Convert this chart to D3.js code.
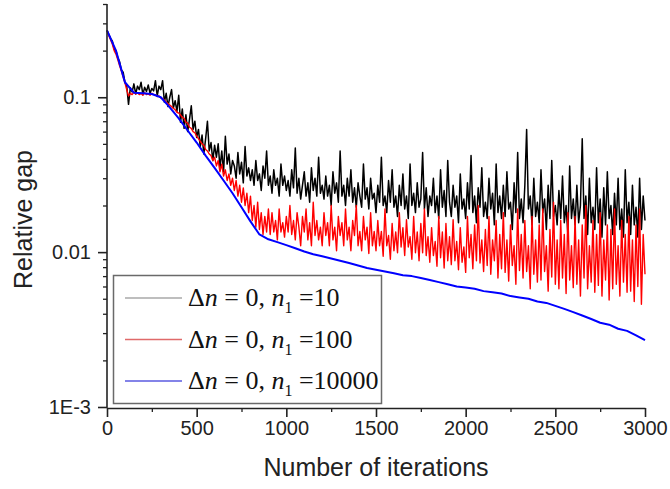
<!DOCTYPE html>
<html>
<head>
<meta charset="utf-8">
<script src="https://cdn.jsdelivr.net/npm/d3@7"></script>
<style>
  body { margin: 0; background: white; }
</style>
</head>
<body>
<div id="chart"></div>
<script>
// n1 = 10 and n1 = 100 read every 10 iterations, n1 = 10000 every 50
let stepNoisy = 10;
let stepSmooth = 50;

let gapN10 = [
  0.27, 0.255, 0.24, 0.23, 0.205, 0.20, 0.18, 0.17, 0.15, 0.145, 0.125, 0.118, 0.09,
  0.115, 0.108, 0.122, 0.105, 0.118, 0.112, 0.125, 0.104, 0.116, 0.109, 0.12, 0.106, 0.114, 0.11, 0.128, 0.102, 0.118, 0.112,
  0.128, 0.093, 0.106, 0.087, 0.1, 0.112, 0.085, 0.095, 0.081, 0.103,
  0.069, 0.084, 0.063, 0.077, 0.06, 0.072, 0.088, 0.062, 0.07, 0.055,
  0.062, 0.048, 0.057, 0.043, 0.054, 0.07, 0.045, 0.051, 0.039, 0.049,
  0.041, 0.05, 0.035, 0.045, 0.033, 0.056, 0.037, 0.043, 0.032, 0.039,
  0.036, 0.03, 0.044, 0.032, 0.038, 0.028, 0.048, 0.031, 0.035, 0.029,
  0.034, 0.027, 0.039, 0.029, 0.032, 0.025, 0.036, 0.03, 0.045, 0.027,
  0.031, 0.024, 0.034, 0.027, 0.03, 0.023, 0.037, 0.027, 0.031, 0.025,
  0.029, 0.023, 0.034, 0.026, 0.047, 0.024, 0.03, 0.022, 0.027, 0.033,
  0.023, 0.028, 0.021, 0.035, 0.025, 0.03, 0.023, 0.041, 0.024, 0.027,
  0.022, 0.031, 0.023, 0.027, 0.02, 0.033, 0.024, 0.028, 0.021, 0.045,
  0.023, 0.027, 0.02, 0.03, 0.023, 0.034, 0.021, 0.026, 0.0195, 0.028,
  0.023, 0.0195, 0.037, 0.022, 0.026, 0.019, 0.03, 0.022, 0.024, 0.018,
  0.027, 0.021, 0.041, 0.02, 0.023, 0.018, 0.029, 0.021, 0.034, 0.0195,
  0.023, 0.017, 0.027, 0.02, 0.032, 0.019, 0.023, 0.0165, 0.037, 0.02,
  0.024, 0.018, 0.028, 0.0195, 0.022, 0.044, 0.019, 0.026, 0.017, 0.023,
  0.02, 0.03, 0.018, 0.023, 0.0165, 0.034, 0.0195, 0.025, 0.017, 0.039,
  0.021, 0.017, 0.027, 0.0195, 0.023, 0.0155, 0.032, 0.019, 0.022, 0.0165,
  0.028, 0.019, 0.042, 0.018, 0.023, 0.0155, 0.026, 0.0195, 0.035, 0.017,
  0.021, 0.0165, 0.03, 0.019, 0.024, 0.015, 0.037, 0.018, 0.023, 0.0165,
  0.027, 0.017, 0.033, 0.019, 0.021, 0.014, 0.028, 0.018, 0.044, 0.0165,
  0.022, 0.0155, 0.027, 0.062, 0.019, 0.023, 0.015, 0.03, 0.017, 0.021,
  0.0155, 0.034, 0.018, 0.022, 0.014, 0.027, 0.0165, 0.039, 0.017, 0.02,
  0.015, 0.025, 0.0165, 0.031, 0.0155, 0.02, 0.013, 0.036, 0.0165, 0.022,
  0.015, 0.027, 0.0155, 0.02, 0.054, 0.0165, 0.023, 0.013, 0.03, 0.0155,
  0.0195, 0.014, 0.035, 0.0155, 0.022, 0.0125, 0.026, 0.015, 0.033, 0.0165,
  0.02, 0.013, 0.024, 0.015, 0.03, 0.014, 0.019, 0.0125, 0.034, 0.0155,
  0.021, 0.013, 0.027, 0.015, 0.0195, 0.0125, 0.03, 0.014, 0.023, 0.016
];

let gapN100 = [
  0.27, 0.25, 0.235, 0.22, 0.2, 0.19, 0.175, 0.16, 0.148, 0.135, 0.124, 0.112, 0.102,
  0.106, 0.104, 0.108, 0.105, 0.107, 0.104, 0.106, 0.103, 0.107, 0.104, 0.105, 0.103, 0.106, 0.104, 0.104, 0.101, 0.102, 0.099,
  0.098, 0.096, 0.093, 0.091, 0.089, 0.087, 0.085, 0.083, 0.08, 0.079,
  0.077, 0.074, 0.073, 0.069, 0.068, 0.064, 0.063, 0.06, 0.059, 0.056,
  0.054, 0.052, 0.05, 0.049, 0.046, 0.045, 0.043, 0.042, 0.039, 0.041,
  0.036, 0.039, 0.033, 0.037, 0.031, 0.034, 0.029, 0.032, 0.027, 0.03,
  0.025, 0.029, 0.023, 0.027, 0.021, 0.026, 0.02, 0.024, 0.018, 0.023,
  0.016, 0.02, 0.0145, 0.021, 0.014, 0.018, 0.013, 0.017, 0.0135, 0.019,
  0.013, 0.018, 0.0135, 0.016, 0.012, 0.019, 0.0135, 0.0155, 0.0125, 0.017,
  0.0135, 0.02, 0.013, 0.016, 0.012, 0.018, 0.0145, 0.011, 0.017, 0.0135,
  0.019, 0.012, 0.0155, 0.011, 0.021, 0.0128, 0.016, 0.012, 0.0145, 0.011,
  0.018, 0.0128, 0.0155, 0.011, 0.02, 0.012, 0.0145, 0.0102, 0.017, 0.0128,
  0.0155, 0.011, 0.019, 0.012, 0.0145, 0.0102, 0.016, 0.0128, 0.02, 0.011,
  0.0136, 0.0102, 0.017, 0.012, 0.0145, 0.0098, 0.018, 0.011, 0.0136, 0.0102,
  0.016, 0.011, 0.0136, 0.0094, 0.019, 0.011, 0.0128, 0.009, 0.0153, 0.0102,
  0.0135, 0.0099, 0.018, 0.0108, 0.0144, 0.0095, 0.0162, 0.0108, 0.0126, 0.009,
  0.017, 0.0099, 0.0135, 0.0088, 0.0153, 0.0099, 0.019, 0.0095, 0.0126, 0.0086,
  0.0144, 0.0095, 0.0117, 0.0081, 0.017, 0.0092, 0.0135, 0.0079, 0.0153, 0.0088,
  0.0126, 0.0083, 0.0162, 0.0088, 0.0117, 0.0077, 0.0144, 0.0086, 0.0108, 0.0074,
  0.017, 0.0092, 0.013, 0.0078, 0.015, 0.0088, 0.02, 0.0085, 0.012, 0.0075,
  0.014, 0.0082, 0.017, 0.0072, 0.012, 0.0088, 0.016, 0.0068, 0.013, 0.0078,
  0.018, 0.0074, 0.012, 0.0065, 0.015, 0.0082, 0.011, 0.0062, 0.019, 0.0076,
  0.013, 0.0068, 0.016, 0.0075, 0.011, 0.0058, 0.017, 0.0072, 0.012, 0.0064,
  0.015, 0.0066, 0.019, 0.0075, 0.011, 0.0056, 0.014, 0.0069, 0.021, 0.0062,
  0.012, 0.0058, 0.016, 0.0068, 0.013, 0.0054, 0.018, 0.0066, 0.011, 0.0059,
  0.017, 0.0062, 0.012, 0.0052, 0.015, 0.0068, 0.02, 0.0058, 0.011, 0.0064,
  0.016, 0.0055, 0.013, 0.0061, 0.018, 0.0052, 0.012, 0.0066, 0.015, 0.0049,
  0.014, 0.0058, 0.019, 0.0062, 0.011, 0.0052, 0.016, 0.0064, 0.013, 0.0055,
  0.017, 0.0056, 0.012, 0.0048, 0.015, 0.006, 0.019, 0.0046, 0.013, 0.0072
];

let gapN10000 = [
  0.27, 0.20, 0.125, 0.107, 0.106, 0.105, 0.100, 0.086, 0.073, 0.061,
  0.051, 0.042, 0.035, 0.029, 0.024, 0.0195, 0.0158, 0.0130, 0.0121, 0.0116,
  0.0111, 0.0106, 0.0101, 0.0097, 0.0094, 0.0091, 0.0088, 0.0085, 0.0082, 0.0079,
  0.0077, 0.0075, 0.0073, 0.0071, 0.0070, 0.0068, 0.0066, 0.0064, 0.0062, 0.0060,
  0.0059, 0.0058, 0.0056, 0.0055, 0.0054, 0.0052, 0.0051, 0.0050, 0.0048, 0.0047,
  0.0045, 0.0043, 0.0041, 0.0039, 0.0037, 0.0035, 0.0034, 0.0032, 0.0031, 0.0029,
  0.0027
];

let xTicks = [0, 500, 1000, 1500, 2000, 2500, 3000];
let xMinorTicks = [250, 750, 1250, 1750, 2250, 2750];
let yTicks = [0.001, 0.01, 0.1];
let yTickLabels = ["1E-3", "0.01", "0.1"];
let seriesNames = ["10", "100", "10000"];
let seriesColors = ["#000000", "#ff0000", "#0000ff"];
let legendColors = ["#a8a8a8", "#e06a6a", "#5a5ae0"];

function drawChart() {
    let width = 670;
    let height = 489;
    let left = 107;
    let right = 645;
    let top = 4;
    let bottom = 407;

    let svg = d3.select("#chart")
        .append("svg")
        .attr("width", width)
        .attr("height", height)
        .style("background", "white");

    let xScale = d3.scaleLinear().domain([0, 3000]).range([left, right]);
    let yScale = d3.scaleLog().domain([0.001, 0.4]).range([bottom, top]);

    // series
    let allSeries = [
        gapN10.map((v, i) => [i * stepNoisy, v]),
        gapN100.map((v, i) => [i * stepNoisy, v]),
        gapN10000.map((v, i) => [i * stepSmooth, v])
    ];
    let widths = [1.5, 1.4, 2];

    let line = d3.line()
        .x(d => xScale(d[0]))
        .y(d => yScale(d[1]));

    for (let i = 0; i < allSeries.length; i++) {
        svg.append("path")
            .datum(allSeries[i])
            .attr("d", line)
            .style("fill", "none")
            .style("stroke", seriesColors[i])
            .style("stroke-width", widths[i])
            .style("stroke-linejoin", "round");
    }

    // y axis, minor ticks first
    let yMinor = [];
    for (let p = 0.001; p < 0.5; p *= 10) {
        for (let k = 2; k <= 9; k++) {
            if (k * p <= 0.4001) yMinor.push(k * p);
        }
    }
    svg.append("g")
        .attr("transform", "translate(" + left + ",0)")
        .call(d3.axisLeft(yScale).tickValues(yMinor).tickSize(4).tickFormat(""))
        .call(g => g.select(".domain").remove())
        .selectAll("line").style("stroke", "#222").style("stroke-width", 1.3);

    let yAxis = svg.append("g")
        .attr("transform", "translate(" + left + ",0)")
        .call(d3.axisLeft(yScale).tickValues(yTicks).tickSize(9).tickSizeOuter(0)
            .tickFormat((d, i) => yTickLabels[i]));
    yAxis.select(".domain").style("stroke", "#222").style("stroke-width", 1.6)
        .attr("d", "M0," + (bottom + 1) + "V" + top);
    yAxis.selectAll("line").style("stroke", "#222").style("stroke-width", 1.6);
    yAxis.selectAll("text")
        .attr("x", -16)
        .style("font-family", "Liberation Sans, Arial, sans-serif")
        .style("font-size", "20px")
        .style("fill", "#222");

    // x axis
    svg.append("g")
        .attr("transform", "translate(0," + (bottom + 1) + ")")
        .call(d3.axisBottom(xScale).tickValues(xMinorTicks).tickSize(4).tickFormat(""))
        .call(g => g.select(".domain").remove())
        .selectAll("line").style("stroke", "#222").style("stroke-width", 1.3);

    let xAxis = svg.append("g")
        .attr("transform", "translate(0," + (bottom + 1) + ")")
        .call(d3.axisBottom(xScale).tickValues(xTicks).tickSize(9).tickSizeOuter(0)
            .tickFormat(d3.format("d")));
    xAxis.select(".domain").style("stroke", "#222").style("stroke-width", 1.6);
    xAxis.selectAll("line").style("stroke", "#222").style("stroke-width", 1.6);
    xAxis.selectAll("text")
        .attr("y", 13)
        .style("font-family", "Liberation Sans, Arial, sans-serif")
        .style("font-size", "20px")
        .style("fill", "#222");

    // axis titles
    svg.append("text")
        .attr("text-anchor", "middle")
        .attr("x", (left + right) / 2)
        .attr("y", 476)
        .style("font-family", "Liberation Sans, Arial, sans-serif")
        .style("font-size", "25px")
        .style("fill", "#222")
        .text("Number of iterations");

    svg.append("text")
        .attr("text-anchor", "middle")
        .attr("transform", "translate(32," + ((top + bottom) / 2 + 14) + ") rotate(-90)")
        .style("font-family", "Liberation Sans, Arial, sans-serif")
        .style("font-size", "25px")
        .style("fill", "#222")
        .text("Relative gap");

    // legend
    let legend = svg.append("g");
    legend.append("rect")
        .attr("x", 113.5)
        .attr("y", 275.5)
        .attr("width", 268)
        .attr("height", 128)
        .style("fill", "white")
        .style("stroke", "#6a6a6a")
        .style("stroke-width", 1.5);

    for (let i = 0; i < seriesNames.length; i++) {
        let cy = 298 + i * 41.5;
        legend.append("line")
            .attr("x1", 125).attr("x2", 182)
            .attr("y1", cy).attr("y2", cy)
            .style("stroke", legendColors[i])
            .style("stroke-width", 1.5);

        let t = legend.append("text")
            .attr("x", 188)
            .attr("y", cy + 8)
            .style("font-family", "Liberation Serif, Times New Roman, serif")
            .style("font-size", "26px")
            .style("fill", "#111");
        t.append("tspan").text("\u0394");
        t.append("tspan").style("font-style", "italic").text("n");
        t.append("tspan").text(" = 0, ");
        t.append("tspan").style("font-style", "italic").text("n");
        t.append("tspan").attr("dy", 7).style("font-size", "16px").text("1");
        t.append("tspan").attr("dy", -7).text(" =" + seriesNames[i]);
    }
}

window.onload = () => {
    drawChart();
}
</script>
</body>
</html>
